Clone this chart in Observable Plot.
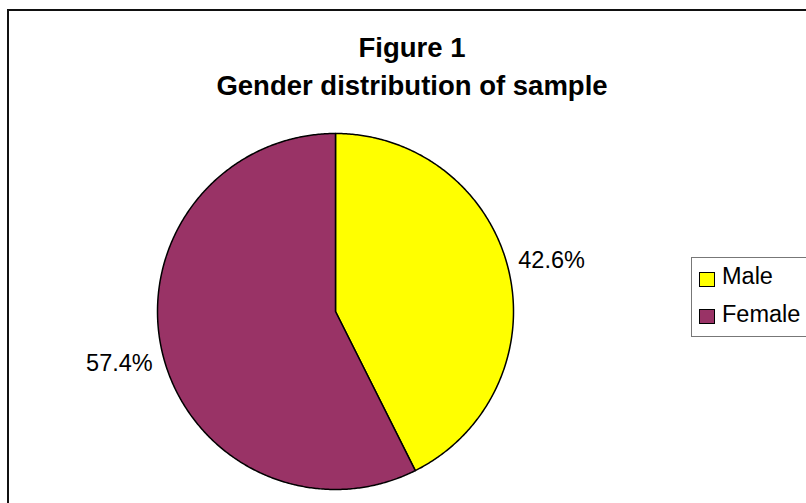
<!DOCTYPE html>
<html>
<head>
<meta charset="utf-8">
<script src="https://cdn.jsdelivr.net/npm/d3@7"></script>
<script src="https://cdn.jsdelivr.net/npm/@observablehq/plot@0.6"></script>
<style>
  html, body { margin: 0; padding: 0; background: #fff; overflow: hidden; }
  body { width: 806px; height: 503px; position: relative; font-family: "Liberation Sans", Arial, sans-serif; }
  #frame { position: absolute; left: 7px; top: 9px; width: 900px; height: 600px; border: 2px solid #111; box-sizing: border-box; }
  .title { position: absolute; left: 0; width: 824px; text-align: center; font-weight: bold; font-size: 27.5px; line-height: 27.5px; color: #000; }
  #chart { position: absolute; left: 0; top: 0; }
  #legend { position: absolute; left: 691px; top: 257px; width: 200px; height: 80px; border: 1px solid #777; box-sizing: border-box; background: #fff; }
  .item { position: absolute; left: 0; font-size: 23.5px; line-height: 23.5px; color: #000; }
  .sw { position: absolute; width: 16px; height: 15px; border: 1px solid #000; box-sizing: border-box; }
</style>
</head>
<body>
<div id="frame"></div>
<div class="title" style="top:34px">Figure 1</div>
<div class="title" style="top:72px">Gender distribution of sample</div>
<div id="chart"></div>
<div id="legend"></div>
<script>
// ---- data ----
const categories = ["Male", "Female"];
const shares = [42.6, 57.4];
const labels = ["42.6%", "57.4%"];
const colors = ["#ffff00", "#993366"];

// ---- geometry derived from data ----
const pie = d3.pie().sort(null).value(d => d)(shares);
const slicePts = [];
pie.forEach((s, i) => {
  const cat = categories[i];
  slicePts.push({cat, x: 0, y: 0});
  const n = Math.max(2, Math.ceil((s.endAngle - s.startAngle) / (Math.PI / 360)));
  for (let k = 0; k <= n; k++) {
    const a = s.startAngle + (s.endAngle - s.startAngle) * k / n;
    slicePts.push({cat, x: Math.sin(a), y: Math.cos(a)});
  }
});
const labelR = 1.055;
const labelData = pie.map((s, i) => {
  const a = (s.startAngle + s.endAngle) / 2;
  return {text: labels[i], x: labelR * Math.sin(a), y: labelR * Math.cos(a)};
});

const cx = 335, cy = 311, R = 178;
const marks = [
  Plot.line(slicePts, {x: "x", y: "y", z: "cat", fill: "cat", stroke: "#000", strokeWidth: 1.5, curve: "linear-closed", strokeLinejoin: "round"})
];
for (const [right, up] of [[true, true], [true, false], [false, true], [false, false]]) {
  marks.push(Plot.text(labelData, {
    filter: d => (d.x >= 0) === right && (d.y >= 0) === up,
    x: "x", y: "y", text: "text",
    textAnchor: right ? "start" : "end",
    lineAnchor: up ? "bottom" : "top",
    fontSize: 23.5, fill: "#000"
  }));
}

const chart = Plot.plot({
  width: 806, height: 503,
  marginTop: 0, marginRight: 0, marginBottom: 0, marginLeft: 0,
  style: {fontFamily: "'Liberation Sans', Arial, sans-serif", background: "transparent", overflow: "visible"},
  x: {domain: [-1, 1], range: [cx - R, cx + R], axis: null},
  y: {domain: [-1, 1], range: [cy + R, cy - R], axis: null},
  color: {domain: categories, range: colors},
  marks
});
document.getElementById("chart").appendChild(chart);

// ---- legend ----
const legend = document.getElementById("legend");
categories.forEach((c, i) => {
  const sw = document.createElement("div");
  sw.className = "sw";
  sw.style.left = "7px";
  sw.style.top = (14 + i * 37) + "px";
  sw.style.background = colors[i];
  legend.appendChild(sw);
  const t = document.createElement("div");
  t.className = "item";
  t.style.left = "30px";
  t.style.top = (7 + i * 38) + "px";
  t.textContent = c;
  legend.appendChild(t);
});
</script>
</body>
</html>
